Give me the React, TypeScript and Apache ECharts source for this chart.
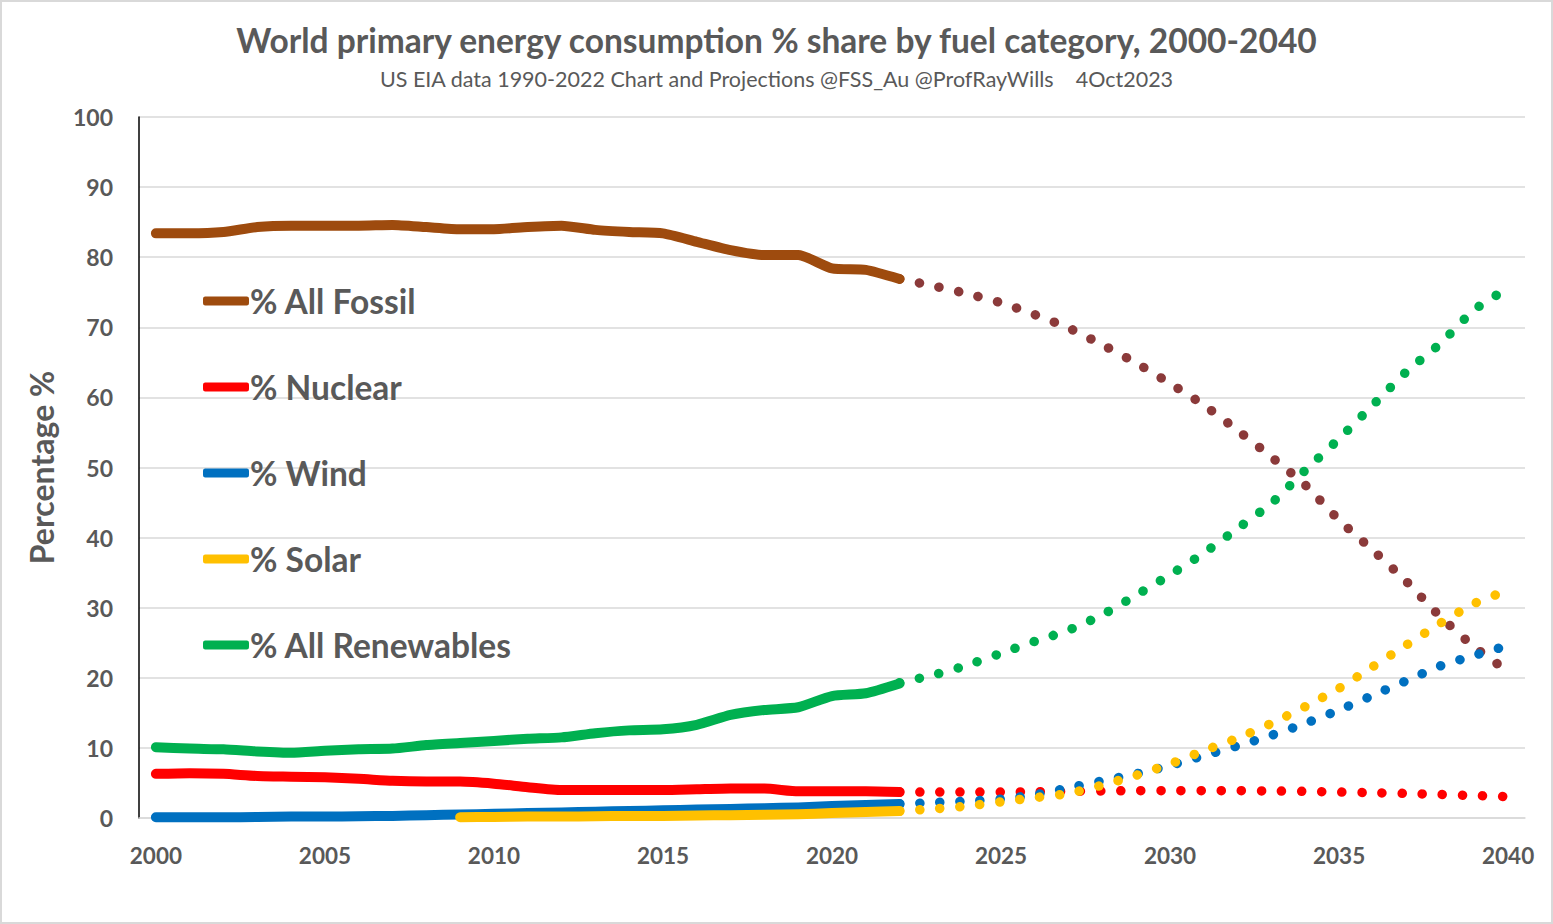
import React, { useEffect, useRef } from "react";
import * as echarts from "echarts";

const years = [
  "2000", "2001", "2002", "2003", "2004", "2005", "2006", "2007", "2008", "2009",
  "2010", "2011", "2012", "2013", "2014", "2015", "2016", "2017", "2018", "2019",
  "2020", "2021", "2022", "2023", "2024", "2025", "2026", "2027", "2028", "2029",
  "2030", "2031", "2032", "2033", "2034", "2035", "2036", "2037", "2038", "2039", "2040",
];

// Historical 2000-2022
const fossilActual = [83.4, 83.4, 83.6, 84.3, 84.5, 84.5, 84.5, 84.6, 84.3, 84.0, 84.0, 84.3, 84.5, 83.9, 83.6, 83.4, 82.2, 81.0, 80.3, 80.3, 78.4, 78.2, 76.9];
const nuclearActual = [6.3, 6.4, 6.3, 6.0, 5.9, 5.8, 5.6, 5.3, 5.2, 5.2, 4.9, 4.4, 4.0, 4.0, 4.0, 4.0, 4.1, 4.2, 4.2, 3.8, 3.8, 3.8, 3.7];
const windActual = [0.1, 0.1, 0.1, 0.15, 0.2, 0.2, 0.25, 0.3, 0.4, 0.5, 0.6, 0.7, 0.8, 0.9, 1.0, 1.1, 1.2, 1.3, 1.4, 1.5, 1.7, 1.85, 2.0];
// Solar 2009-2022
const solarActual = [0.1, 0.15, 0.2, 0.2, 0.25, 0.3, 0.3, 0.35, 0.4, 0.45, 0.55, 0.7, 0.85, 1.0];
const renewActual = [10.1, 9.9, 9.8, 9.5, 9.3, 9.6, 9.8, 9.9, 10.4, 10.7, 11.0, 11.3, 11.5, 12.1, 12.5, 12.65, 13.3, 14.7, 15.4, 15.8, 17.4, 17.8, 19.2];

// Projections 2022-2040
const fossilProj = [76.9, 75.9, 74.8, 73.5, 71.8, 69.9, 67.5, 64.9, 62.0, 58.9, 55.3, 51.5, 47.5, 42.5, 38.2, 33.7, 28.7, 24.4, 20.9];
const nuclearProj = [3.7, 3.7, 3.7, 3.7, 3.75, 3.8, 3.85, 3.9, 3.9, 3.9, 3.9, 3.85, 3.8, 3.7, 3.6, 3.5, 3.35, 3.2, 3.05];
const windProj = [2.0, 2.2, 2.4, 2.7, 3.3, 4.3, 5.3, 6.3, 7.5, 8.9, 10.3, 11.8, 13.5, 15.4, 17.5, 19.6, 21.7, 23.2, 24.6];
const solarProj = [1.0, 1.3, 1.7, 2.3, 2.9, 3.5, 4.7, 6.1, 7.7, 9.6, 11.4, 13.5, 15.9, 18.5, 21.6, 24.7, 27.8, 30.6, 32.5];
const renewProj = [19.3, 20.4, 21.8, 23.5, 25.2, 26.8, 29.0, 31.8, 34.7, 37.8, 41.3, 44.9, 49.6, 54.1, 58.9, 63.7, 67.7, 72.5, 75.6];

const yTicks = [0, 10, 20, 30, 40, 50, 60, 70, 80, 90, 100];

const FONT = "Lato";
const TXT = "#595959";

function padActual(vals: number[], startIdx: number) {
  return years.map((_, i) => (i >= startIdx && i - startIdx < vals.length ? vals[i - startIdx] : "-"));
}
function padProj(vals: number[]) {
  const start = years.indexOf("2022");
  return years.map((_, i) => (i >= start ? vals[i - start] : "-"));
}

export default function App() {
  const ref = useRef<HTMLDivElement>(null);
  useEffect(() => {
    if (!ref.current) return;
    const chart = echarts.init(ref.current, undefined, { renderer: "svg" });
    const solid = (name: string, color: string, data: any[]) => ({
      name,
      type: "line",
      data,
      showSymbol: false,
      symbol: "none",
      smooth: 0.2,
      connectNulls: false,
      lineStyle: { color, width: 10, cap: "round", join: "round" },
      itemStyle: { color },
      z: 3,
    });
    const dotted = (name: string, color: string, data: any[]) => ({
      name,
      type: "line",
      data,
      showSymbol: false,
      symbol: "none",
      smooth: 0.2,
      lineStyle: { color, width: 9.5, cap: "round", type: [0.1, 20] },
      itemStyle: { color },
      z: 2,
    });
    const option: any = {
      animation: false,
      backgroundColor: "#ffffff",
      title: [
        {
          text: "World primary energy consumption % share by fuel category, 2000-2040",
          left: "center",
          top: 18,
          textStyle: { fontFamily: FONT, fontSize: 33.5, fontWeight: "bold", color: TXT },
        },
        {
          text: "US EIA data 1990-2022 Chart and Projections @FSS_Au @ProfRayWills    4Oct2023",
          left: "center",
          top: 63,
          textStyle: { fontFamily: FONT, fontSize: 21.5, fontWeight: "normal", color: TXT },
        },
      ],
      legend: {
        data: ["% All Fossil", "% Nuclear", "% Wind", "% Solar", "% All Renewables"],
        orient: "vertical",
        left: 198,
        top: 276,
        icon: "roundRect",
        itemWidth: 46,
        itemHeight: 9,
        itemGap: 46,
        textStyle: { fontFamily: FONT, fontSize: 33.5, fontWeight: "bold", color: TXT, lineHeight: 40, padding: [0, 0, 0, -4] },
        selectedMode: false,
      },
      grid: { left: 139, right: 28, top: 117, bottom: 106, containLabel: false },
      xAxis: {
        type: "category",
        data: years,
        boundaryGap: true,
        axisTick: { show: false },
        axisLine: { show: true, lineStyle: { color: "#d9d9d9", width: 1.5 } },
        axisLabel: {
          interval: 4,
          margin: 26,
          fontFamily: FONT,
          fontSize: 22.5,
          fontWeight: "bold",
          color: TXT,
        },
        splitLine: { show: false },
      },
      yAxis: {
        type: "value",
        min: yTicks[0],
        max: yTicks[yTicks.length - 1],
        interval: 10,
        name: "Percentage %",
        nameLocation: "middle",
        nameGap: 82,
        nameTextStyle: { fontFamily: FONT, fontSize: 32, fontWeight: "bold", color: TXT },
        axisLine: { show: true, lineStyle: { color: "#000000", width: 1.5 } },
        axisTick: { show: false },
        axisLabel: { margin: 26, fontFamily: FONT, fontSize: 23, fontWeight: "bold", color: TXT },
        splitLine: { show: true, lineStyle: { color: "#d9d9d9", width: 1.5 } },
      },
      graphic: [
        {
          type: "rect",
          shape: { x: 1, y: 1, width: 1551, height: 922 },
          style: { fill: "none", stroke: "#d9d9d9", lineWidth: 2 },
          silent: true,
        },
      ],
      series: [
        dotted("% All Fossil projection", "#8B3A3A", padProj(fossilProj)),
        dotted("% Nuclear projection", "#FF0000", padProj(nuclearProj)),
        dotted("% Wind projection", "#0070C0", padProj(windProj)),
        dotted("% Solar projection", "#FFC000", padProj(solarProj)),
        dotted("% All Renewables projection", "#00B050", padProj(renewProj)),
        solid("% All Fossil", "#9E4B0E", padActual(fossilActual, 0)),
        solid("% Nuclear", "#FF0000", padActual(nuclearActual, 0)),
        solid("% Wind", "#0070C0", padActual(windActual, 0)),
        solid("% Solar", "#FFC000", padActual(solarActual, years.indexOf("2009"))),
        solid("% All Renewables", "#00B050", padActual(renewActual, 0)),
      ],
    };
    chart.setOption(option);
    return () => chart.dispose();
  }, []);
  return (
    <div
      ref={ref}
      style={{ position: "fixed", left: 0, top: 0, width: 1553, height: 924, background: "#fff" }}
    />
  );
}
